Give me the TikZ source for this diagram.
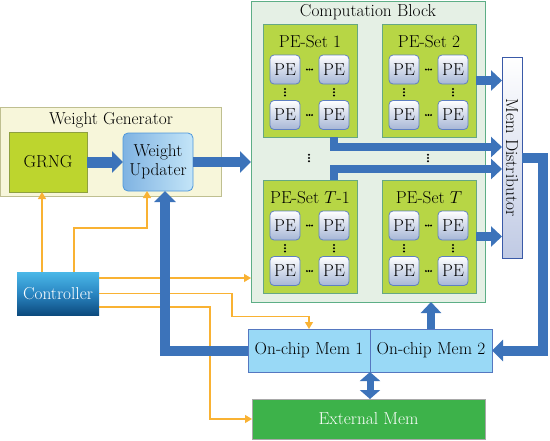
\documentclass[tikz,border=0pt]{standalone}
\usetikzlibrary{arrows.meta,calc}
\definecolor{wgbg}{HTML}{F7F6DA}
\definecolor{wgbd}{HTML}{BFBF90}
\definecolor{cbbg}{HTML}{E5F0E5}
\definecolor{cbbd}{HTML}{5DAE86}
\definecolor{setbg}{HTML}{B7D645}
\definecolor{setbd}{HTML}{66A884}
\definecolor{grngbg}{HTML}{BDD52E}
\definecolor{grngbd}{HTML}{8EA040}
\definecolor{wuL}{HTML}{7FB3E2}
\definecolor{wuR}{HTML}{C4E5F8}
\definecolor{wubd}{HTML}{4E97DB}
\definecolor{peB}{HTML}{A6B6D6}
\definecolor{pebd}{HTML}{5F80C2}
\definecolor{ombg}{HTML}{99D9F6}
\definecolor{ombd}{HTML}{5577C0}
\definecolor{embg}{HTML}{3DB24A}
\definecolor{embd}{HTML}{A8A8A8}
\definecolor{orng}{HTML}{F9B233}
\definecolor{bblue}{HTML}{3C73BA}
\definecolor{ctT}{HTML}{4AB8E8}
\definecolor{ctM}{HTML}{2A86C2}
\definecolor{ctB}{HTML}{0C4A7E}
\definecolor{mdB}{HTML}{C0CAE4}
\definecolor{mdbd}{HTML}{3A5AA8}
\begin{document}
\begin{tikzpicture}[x=1pt,y=-1pt,
  font=\rmfamily\fontsize{17.3}{20}\selectfont,
  base/.style={inner sep=0pt, outer sep=0pt, line width=0.8pt},
  wgbox/.style={base, draw=wgbd, fill=wgbg},
  cbbox/.style={base, draw=cbbd, fill=cbbg},
  setbox/.style={base, draw=setbd, fill=setbg, minimum width=94pt, minimum height=113pt, anchor=north west},
  grngbox/.style={base, draw=grngbd, fill=grngbg},
  wubox/.style={base, draw=wubd, left color=wuL, right color=wuR, rounded corners=5pt, align=center},
  pebox/.style={base, draw=pebd, top color=white, bottom color=peB, rounded corners=4pt, minimum width=30pt, minimum height=29pt},
  mdbox/.style={base, draw=mdbd, top color=white, bottom color=mdB},
  ombox/.style={base, draw=ombd, fill=ombg},
  embox/.style={base, draw=embd, fill=embg, text=white},
  ctbox/.style={base, top color=ctT, bottom color=ctB, middle color=ctM, text=white},
  titletext/.style={inner sep=0pt},
  hdots/.style={inner sep=0pt, minimum width=8pt, minimum height=3pt,
    path picture={\foreach \k in {-2.6,0,2.6}{\fill[black] ([xshift=\k pt]path picture bounding box.center) circle (1.1pt);}}},
  vdots/.style={inner sep=0pt, minimum width=3pt, minimum height=10pt,
    path picture={\foreach \k in {-3.2,0,3.2}{\fill[black] ([yshift=\k pt]path picture bounding box.center) circle (1.1pt);}}},
  oline/.style={draw=orng, line width=1.3pt},
  oarrow/.style={oline, -{Triangle[width=8pt,length=7pt]}},
  barrow/.style={draw=bblue, line width=10pt, -{Triangle[width=21pt,length=11pt]}},
  sarrow/.style={draw=bblue, line width=8.5pt, -{Triangle[width=20pt,length=11pt]}}
]
\useasboundingbox (0,0) rectangle (550,440);

% Weight generator
\node[wgbox, minimum width=221pt, minimum height=89pt] (WG) at (111,151.5) {};
\node[titletext] (WGt) at (111,120) {Weight Generator};
\node[grngbox, minimum width=78pt, minimum height=60pt] (GRNG) at (48,162) {GRNG};
\node[wubox, minimum width=70pt, minimum height=58pt] (WU) at (158,162) {Weight\\[-1pt]Updater};

% Computation block
\node[cbbox, minimum width=234pt, minimum height=301pt] (CB) at (368,151.5) {};
\node[titletext] (CBt) at (368,12) {Computation Block};

\foreach \n/\x/\y/\t in {S1/263/24/{PE-Set 1}, S2/382/24/{PE-Set 2}, S3/263/180/{PE-Set $T$-1}, S4/382/180/{PE-Set $T$}} {
  \node[setbox] (\n) at (\x,\y) {};
  \node[titletext] (\n t) at ([yshift=-18pt]\n.north) {\t};
  \node[pebox] (\n a) at ([xshift=22pt,yshift=-45.5pt]\n.north west) {PE};
  \node[pebox] (\n b) at ([xshift=71pt,yshift=-45.5pt]\n.north west) {PE};
  \node[pebox] (\n c) at ([xshift=22pt,yshift=-91pt]\n.north west) {PE};
  \node[pebox] (\n d) at ([xshift=71pt,yshift=-91pt]\n.north west) {PE};
  \node[hdots] (\n h1) at ($(\n a)!0.5!(\n b)$) {};
  \node[hdots] (\n h2) at ($(\n c)!0.5!(\n d)$) {};
  \node[vdots] (\n v1) at ($(\n a)!0.5!(\n c)$) {};
  \node[vdots] (\n v2) at ($(\n b)!0.5!(\n d)$) {};
}
\node[vdots] (dotsL) at (309,158) {};
\node[vdots] (dotsR) at (428,158) {};

% Mem distributor
\node[mdbox, minimum width=20pt, minimum height=201pt] (MD) at (512,157.5) {};
\node[titletext, rotate=-90] (MDt) at (MD.center) {Mem Distributor};

% Controller and memories
\node[ctbox, minimum width=82pt, minimum height=43pt] (CT) at (58,293.5) {Controller};
\node[ombox, minimum width=122pt, minimum height=43pt] (OM1) at (309,350.5) {On-chip Mem 1};
\node[ombox, minimum width=122pt, minimum height=43pt] (OM2) at (431,350.5) {On-chip Mem 2};
\node[embox, minimum width=233pt, minimum height=40pt] (EM) at (368.5,419) {External Mem};

% Orange control lines
\draw[oarrow] ([xshift=-16pt]CT.north) -- ([xshift=-16pt]CT.north |- GRNG.south);
\draw[oarrow] ([xshift=16pt]CT.north) -- ++(0,-44) -| ([xshift=-11pt]WU.south);
\draw[oarrow] ([yshift=15.5pt]CT.east) -- ([yshift=15.5pt]CT.east -| CB.west);
\draw[oarrow] (CT.east) -- ++(133,0) -- ++(0,23) -| (OM1.north);
\draw[oarrow] ([yshift=-13.5pt]CT.east) -- ++(111,0) |- (EM.west);

% Blue data arrows
\draw[barrow, line width=11pt] (GRNG.east) -- (WU.west);
\draw[barrow] (WU.east) -- (WU.east -| CB.west);
\draw[barrow] (OM1.west) -| ([xshift=7pt]WU.south);
\draw[sarrow] (S2.east) -- (S2.east -| MD.west);
\draw[sarrow] ([xshift=24pt]S1.south) |- ([yshift=-10pt]MD.west |- S1.south);
\draw[sarrow] ([xshift=24pt]S3.north) |- ([yshift=11pt]MD.west |- S3.north);
\draw[sarrow] (S4.east) -- (S4.east -| MD.west);
\draw[barrow] (MD.east) -- ++(21,0) |- (OM2.east);
\draw[sarrow] (OM2.north) -- (OM2.north |- CB.south);
\draw[draw=bblue, line width=7pt, {Triangle[width=20pt,length=9pt]}-{Triangle[width=20pt,length=9pt]}] (OM1.south east) -- (OM1.south east |- EM.north);
\end{tikzpicture}
\end{document}
